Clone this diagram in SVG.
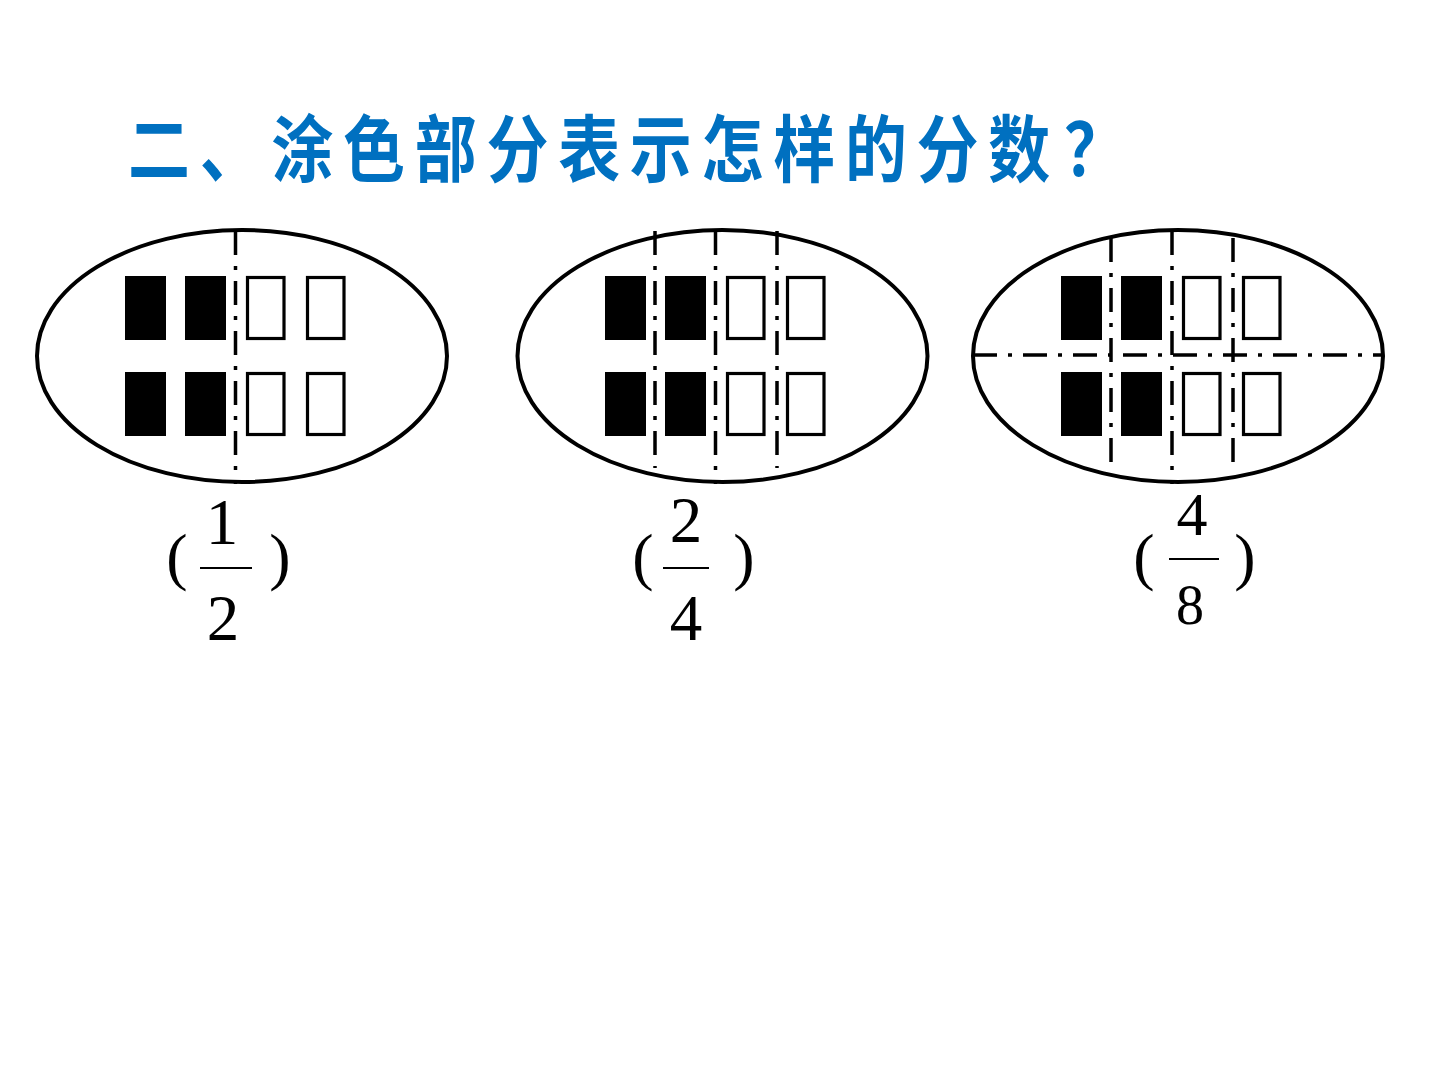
<svg xmlns="http://www.w3.org/2000/svg" width="1440" height="1080" viewBox="0 0 1440 1080">
<style>
.oval{fill:none;stroke:#000;stroke-width:4}
.on{fill:#000}
.off{fill:#fff;stroke:#000;stroke-width:3.2}
.dd{stroke:#000;stroke-width:3.5;stroke-dasharray:24 11 4 11;fill:none}
.num{font-family:"Liberation Serif","Times New Roman",serif;fill:#000;text-anchor:middle}
.bar{stroke:#000;stroke-width:2}
.title{font-family:"Noto Sans CJK SC","Noto Sans",sans-serif;font-weight:bold;fill:#0070C0}
</style>
<rect width="1440" height="1080" fill="#fff"/>
<g id="title">
<text class="title" font-size="62" letter-spacing="9.7" transform="translate(128,176) scale(1,1.18)">二、涂色部分表示怎样的分数<tspan dx="4">？</tspan></text>
</g>
<g id="oval1">
<ellipse class="oval" cx="242" cy="356" rx="205" ry="126"/>
<rect class="on" x="125" y="276" width="41" height="64"/>
<rect class="on" x="185" y="276" width="41" height="64"/>
<rect class="off" x="247.5" y="277.5" width="36.5" height="61"/>
<rect class="off" x="307.5" y="277.5" width="36.5" height="61"/>
<rect class="on" x="125" y="372" width="41" height="64"/>
<rect class="on" x="185" y="372" width="41" height="64"/>
<rect class="off" x="247.5" y="373.5" width="36.5" height="61"/>
<rect class="off" x="307.5" y="373.5" width="36.5" height="61"/>
<line class="dd" x1="235.5" y1="231" x2="235.5" y2="484"/>
</g>
<g id="oval2">
<ellipse class="oval" cx="722.5" cy="356" rx="205" ry="126"/>
<rect class="on" x="605" y="276" width="41" height="64"/>
<rect class="on" x="665" y="276" width="41" height="64"/>
<rect class="off" x="727.5" y="277.5" width="36.5" height="61"/>
<rect class="off" x="787.5" y="277.5" width="36.5" height="61"/>
<rect class="on" x="605" y="372" width="41" height="64"/>
<rect class="on" x="665" y="372" width="41" height="64"/>
<rect class="off" x="727.5" y="373.5" width="36.5" height="61"/>
<rect class="off" x="787.5" y="373.5" width="36.5" height="61"/>
<line class="dd" x1="655" y1="231" x2="655" y2="468"/>
<line class="dd" x1="715.5" y1="231" x2="715.5" y2="484"/>
<line class="dd" x1="777" y1="231" x2="777" y2="468"/>
</g>
<g id="oval3">
<ellipse class="oval" cx="1178" cy="356" rx="205" ry="126"/>
<rect class="on" x="1061" y="276" width="41" height="64"/>
<rect class="on" x="1121" y="276" width="41" height="64"/>
<rect class="off" x="1183.5" y="277.5" width="36.5" height="61"/>
<rect class="off" x="1243.5" y="277.5" width="36.5" height="61"/>
<rect class="on" x="1061" y="372" width="41" height="64"/>
<rect class="on" x="1121" y="372" width="41" height="64"/>
<rect class="off" x="1183.5" y="373.5" width="36.5" height="61"/>
<rect class="off" x="1243.5" y="373.5" width="36.5" height="61"/>
<line class="dd" x1="1111" y1="238" x2="1111" y2="470"/>
<line class="dd" x1="1172" y1="231" x2="1172" y2="484"/>
<line class="dd" x1="1233" y1="238" x2="1233" y2="470"/>
<line class="dd" x1="973" y1="355" x2="1383" y2="355"/>
</g>
<g id="frac1">
<text class="num" font-size="64" x="177" y="578">(</text>
<text class="num" font-size="65" x="222" y="544">1</text>
<line class="bar" x1="200" y1="568" x2="252" y2="568"/>
<text class="num" font-size="65" x="223" y="640">2</text>
<text class="num" font-size="64" x="280" y="578">)</text>
</g>
<g id="frac2">
<text class="num" font-size="64" x="643" y="578">(</text>
<text class="num" font-size="65" x="686" y="542">2</text>
<line class="bar" x1="663" y1="568" x2="709" y2="568"/>
<text class="num" font-size="65" x="686" y="640">4</text>
<text class="num" font-size="64" x="744" y="578">)</text>
</g>
<g id="frac3">
<text class="num" font-size="64" x="1144" y="578">(</text>
<text class="num" font-size="62" x="1192" y="535">4</text>
<line class="bar" x1="1169" y1="559" x2="1219" y2="559"/>
<text class="num" font-size="56" x="1190" y="624">8</text>
<text class="num" font-size="64" x="1245" y="578">)</text>
</g>
</svg>
